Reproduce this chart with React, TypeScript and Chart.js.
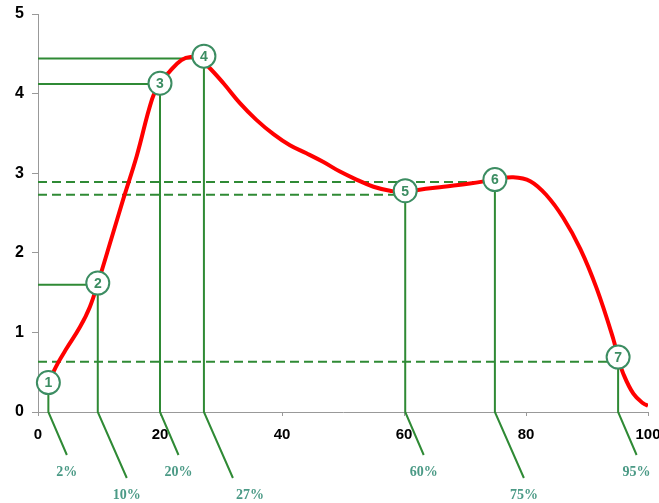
import React, { useEffect, useRef } from "react";
import { Chart, registerables } from "chart.js";

Chart.register(...registerables);

// Red curve (x in %, y value)
const curveX = [2, 3.3, 4.7, 6.9, 8.5, 9.9, 12, 14, 16.2, 18.7, 20, 21.6, 23.5, 25, 26.5, 27.9, 30.4, 33.1, 35.8, 38.6, 41.3, 44, 46.8, 49.5, 52.2, 55, 57.7, 60, 62.3, 66.5, 70.8, 75, 77.9, 80.7, 83.4, 86.1, 88.9, 91.6, 94.3, 95.1, 95.9, 97.6, 99.2, 100];
const curveY = [0.42, 0.62, 0.8, 1.07, 1.32, 1.64, 2.17, 2.68, 3.22, 3.93, 4.13, 4.28, 4.42, 4.46, 4.43, 4.34, 4.13, 3.88, 3.67, 3.49, 3.35, 3.25, 3.14, 3.02, 2.92, 2.83, 2.78, 2.76, 2.79, 2.83, 2.87, 2.92, 2.95, 2.9, 2.72, 2.44, 2.05, 1.55, 0.92, 0.68, 0.49, 0.23, 0.11, 0.08];

// Numbered markers
const markerNums = ["1", "2", "3", "4", "5", "6", "7"];
const markerX = [1.7, 9.8, 20, 27.2, 60.2, 74.9, 95.1];
const markerY = [0.37, 1.62, 4.13, 4.47, 2.78, 2.92, 0.69];
const pctLabels = ["2%", "10%", "20%", "27%", "60%", "75%", "95%"];
// Horizontal guide levels and styles
const guideY = [null, 1.6, 4.12, 4.44, 2.73, 2.89, 0.63];
const guideKind = ["none", "solid", "solid", "solid", "dashed", "dashed", "dashed"];

// Tick values
const xTicks = [0, 20, 40, 60, 80, 100];
const yTicks = [0, 1, 2, 3, 4, 5];

const GREEN = "#2f8a35";
const CIRCLE = "#3c8d62";
const PCT = "#4b9a86";

const guidePlugin = {
  id: "guidePlugin",
  beforeDatasetsDraw(chart: any) {
    const { ctx, scales } = chart;
    const xs = scales.x;
    const ys = scales.y;
    const axisY = ys.getPixelForValue(0);
    const axisX = xs.getPixelForValue(0);
    ctx.save();
    ctx.strokeStyle = GREEN;
    ctx.lineWidth = 2;
    for (let i = 0; i < markerX.length; i++) {
      const px = xs.getPixelForValue(markerX[i]);
      const py = ys.getPixelForValue(markerY[i]);
      if (guideKind[i] !== "none" && guideY[i] !== null) {
        const gy = ys.getPixelForValue(guideY[i] as number);
        ctx.beginPath();
        ctx.setLineDash(guideKind[i] === "dashed" ? [9, 5] : []);
        ctx.moveTo(axisX, gy);
        ctx.lineTo(px, gy);
        ctx.stroke();
      }
      ctx.setLineDash([]);
      const long = i % 2 === 1;
      const dx = long ? 29 : 18.5;
      const dy = long ? 66 : 43;
      ctx.beginPath();
      ctx.moveTo(px, py);
      ctx.lineTo(px, axisY);
      ctx.lineTo(px + dx, axisY + dy);
      ctx.stroke();
    }
    ctx.restore();
  },
  afterDatasetsDraw(chart: any) {
    const { ctx, scales } = chart;
    const xs = scales.x;
    const ys = scales.y;
    const axisY = ys.getPixelForValue(0);
    const shift = [0, 0, 0, 17, 0, 0, 0];
    ctx.save();
    for (let i = 0; i < markerX.length; i++) {
      const px = xs.getPixelForValue(markerX[i]);
      const py = ys.getPixelForValue(markerY[i]);
      ctx.beginPath();
      ctx.arc(px, py, 11.5, 0, Math.PI * 2);
      ctx.fillStyle = "#ffffff";
      ctx.fill();
      ctx.lineWidth = 2;
      ctx.strokeStyle = CIRCLE;
      ctx.stroke();
      ctx.fillStyle = CIRCLE;
      ctx.font = "bold 14px 'Liberation Sans', Arial, sans-serif";
      ctx.textAlign = "center";
      ctx.textBaseline = "middle";
      ctx.fillText(markerNums[i], px, py + 1);

      const long = i % 2 === 1;
      const dx = long ? 29 : 18.5;
      const dy = long ? 66 : 43;
      ctx.fillStyle = PCT;
      ctx.font = "bold 14px 'Liberation Serif', 'Times New Roman', serif";
      ctx.fillText(pctLabels[i], px + dx + shift[i], axisY + dy + 17);
    }
    ctx.restore();
  },
};

export default function App() {
  const ref = useRef<HTMLCanvasElement | null>(null);
  useEffect(() => {
    if (!ref.current) return;
    const chart = new Chart(ref.current, {
      type: "line",
      data: {
        datasets: [
          {
            data: curveX.map((x, i) => ({ x, y: curveY[i] })),
            borderColor: "#ff0000",
            borderWidth: 4,
            pointRadius: 0,
            tension: 0.4,
            fill: false,
          },
        ],
      },
      options: {
        animation: false,
        responsive: false,
        layout: { padding: { top: 14, right: 11, left: 0, bottom: 0 } },
        plugins: { legend: { display: false }, tooltip: { enabled: false } },
        scales: {
          x: {
            type: "linear",
            min: 0,
            max: 100,
            afterBuildTicks: (s: any) => {
              s.ticks = xTicks.map((v) => ({ value: v }));
            },
            ticks: {
              color: "#000",
              font: { family: "'Liberation Sans', Arial, sans-serif", size: 15, weight: "bold" },
              padding: 10,
              maxRotation: 0,
            },
            grid: { drawOnChartArea: false, drawTicks: true, tickLength: 4, color: "#999" },
            border: { color: "#999", width: 1 },
            afterFit: (s: any) => {
              s.height = 91;
              s.paddingLeft = 0;
              s.paddingRight = 0;
            },
          },
          y: {
            type: "linear",
            min: 0,
            max: 5,
            afterBuildTicks: (s: any) => {
              s.ticks = yTicks.map((v) => ({ value: v }));
            },
            ticks: {
              color: "#000",
              font: { family: "'Liberation Sans', Arial, sans-serif", size: 16, weight: "bold" },
              padding: 8,
            },
            grid: { drawOnChartArea: false, drawTicks: true, tickLength: 6, color: "#999" },
            border: { color: "#999", width: 1 },
            afterFit: (s: any) => {
              s.width = 38;
              s.paddingTop = 0;
              s.paddingBottom = 0;
            },
          },
        },
      } as any,
      plugins: [guidePlugin],
    });
    return () => chart.destroy();
  }, []);
  return (
    <div style={{ position: "fixed", left: 0, top: 0, width: 659, height: 503, background: "#fff" }}>
      <canvas ref={ref} width={659} height={503} style={{ display: "block" }} />
    </div>
  );
}
